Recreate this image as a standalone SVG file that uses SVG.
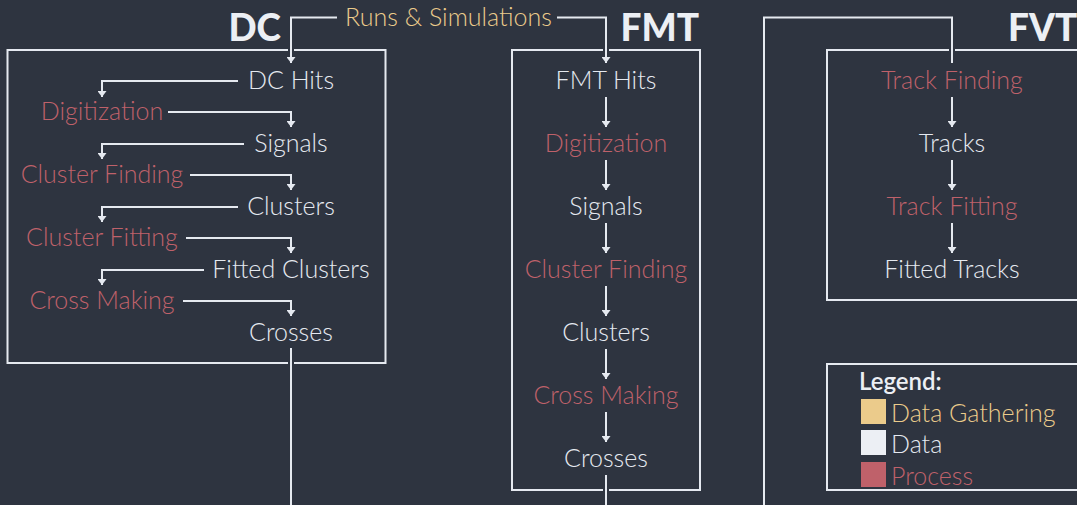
<svg xmlns="http://www.w3.org/2000/svg" xmlns:xlink="http://www.w3.org/1999/xlink" width="1077" height="505" viewBox="0 0 1077 505">
<style>
.t{font-family:Lato,"Open Sans","Liberation Sans",sans-serif;font-weight:300;font-size:25px;text-anchor:middle}
.d{fill:#E5E9F0}
.p{fill:#BF616A}
.g{fill:#EBCB8B}
.title{font-family:Lato,"Open Sans","Liberation Sans",sans-serif;font-weight:900;font-size:37px;fill:#ECEFF4}
.box{fill:none;stroke:#E5E9F0;stroke-width:2}
.halo{fill:none;stroke:#2E3440;stroke-width:6;marker-end:none}
.conn{fill:none;stroke:#E5E9F0;stroke-width:2;marker-end:url(#ah)}
</style>
<defs>
<marker id="ah" viewBox="0 0 10 10" refX="10" refY="5" markerWidth="6" markerHeight="9" markerUnits="userSpaceOnUse" orient="auto" preserveAspectRatio="none">
<path d="M0,0 L10,5 L0,10 z" fill="#E5E9F0"/>
</marker>
<path id="c1" d="M337,17.5 H291 V63"/>
<path id="c2" d="M557,17.5 H606 V63"/>
<path id="c3" d="M764,505 V17.5 H952 V63"/>
<path id="d1" d="M238,81 H102 V97"/>
<path id="d2" d="M168,112 H291 V127"/>
<path id="d3" d="M244,144 H102 V159"/>
<path id="d4" d="M190,175 H291 V190"/>
<path id="d5" d="M238,207 H102 V222"/>
<path id="d6" d="M186,238 H291 V253"/>
<path id="d7" d="M204,270 H102 V285"/>
<path id="d8" d="M183,301 H291 V316"/>
<path id="d9" d="M291,348 V505"/>
<path id="f1" d="M606,97 V127"/>
<path id="f2" d="M606,160 V190"/>
<path id="f3" d="M606,223 V253"/>
<path id="f4" d="M606,286 V316"/>
<path id="f5" d="M606,349 V379"/>
<path id="f6" d="M606,412 V442"/>
<path id="f7" d="M606,475 V505"/>
<path id="v1" d="M952,97 V127"/>
<path id="v2" d="M952,160 V190"/>
<path id="v3" d="M952,223 V253"/>
</defs>
<rect width="1077" height="505" fill="#2E3440"/>

<g id="dc">
<rect class="box" x="7.5" y="50" width="378" height="313"/>
<text class="title" x="281" y="41" text-anchor="end">DC</text>
<text class="t d" x="291" y="89">DC Hits</text>
<text class="t p" x="102" y="120">Digitization</text>
<text class="t d" x="291" y="152">Signals</text>
<text class="t p" x="102" y="183">Cluster Finding</text>
<text class="t d" x="291" y="215">Clusters</text>
<text class="t p" x="102" y="246">Cluster Fitting</text>
<text class="t d" x="291" y="278">Fitted Clusters</text>
<text class="t p" x="102" y="309">Cross Making</text>
<text class="t d" x="291" y="341">Crosses</text>
</g>

<g id="fmt">
<rect class="box" x="512" y="50" width="188" height="440"/>
<text class="title" x="699" y="41" text-anchor="end">FMT</text>
<text class="t d" x="606" y="89">FMT Hits</text>
<text class="t p" x="606" y="152">Digitization</text>
<text class="t d" x="606" y="215">Signals</text>
<text class="t p" x="606" y="278">Cluster Finding</text>
<text class="t d" x="606" y="341">Clusters</text>
<text class="t p" x="606" y="404">Cross Making</text>
<text class="t d" x="606" y="467">Crosses</text>
</g>

<g id="fvt">
<rect class="box" x="827" y="50" width="260" height="250"/>
<text class="title" x="1008" y="41">FVT</text>
<text class="t p" x="952" y="89">Track Finding</text>
<text class="t d" x="952" y="152">Tracks</text>
<text class="t p" x="952" y="215">Track Fitting</text>
<text class="t d" x="952" y="278">Fitted Tracks</text>
</g>

<g id="runs">
<text class="t g" x="448.5" y="26">Runs &amp; Simulations</text>
</g>

<g id="legend">
<rect class="box" x="827" y="364" width="260" height="126"/>
<text x="859" y="390" style="font-family:Lato,'Open Sans','Liberation Sans',sans-serif;font-weight:600;font-size:24px;fill:#ECEFF4">Legend:</text>
<rect x="861" y="399" width="25" height="25" fill="#EBCB8B"/>
<text class="t g" x="891" y="422" style="text-anchor:start">Data Gathering</text>
<rect x="861" y="430" width="25" height="25" fill="#ECEFF4"/>
<text class="t d" x="891" y="453" style="text-anchor:start">Data</text>
<rect x="861" y="462" width="25" height="25" fill="#BF616A"/>
<text class="t p" x="891" y="485" style="text-anchor:start">Process</text>
</g>

<g id="connectors">
<g class="halo">
<use xlink:href="#c1"/><use xlink:href="#c2"/><use xlink:href="#c3"/>
<use xlink:href="#d9"/><use xlink:href="#f1"/><use xlink:href="#f7"/><use xlink:href="#v1"/>
</g>
<g class="conn">
<use xlink:href="#c1"/><use xlink:href="#c2"/>
<use xlink:href="#d1"/><use xlink:href="#d2"/><use xlink:href="#d3"/><use xlink:href="#d4"/>
<use xlink:href="#d5"/><use xlink:href="#d6"/><use xlink:href="#d7"/><use xlink:href="#d8"/>
<use xlink:href="#f1"/><use xlink:href="#f2"/><use xlink:href="#f3"/><use xlink:href="#f4"/>
<use xlink:href="#f5"/><use xlink:href="#f6"/>
<use xlink:href="#v1"/><use xlink:href="#v2"/><use xlink:href="#v3"/>
</g>
<g class="conn" style="marker-end:none">
<use xlink:href="#c3"/><use xlink:href="#d9"/><use xlink:href="#f7"/>
</g>
</g>
</svg>
